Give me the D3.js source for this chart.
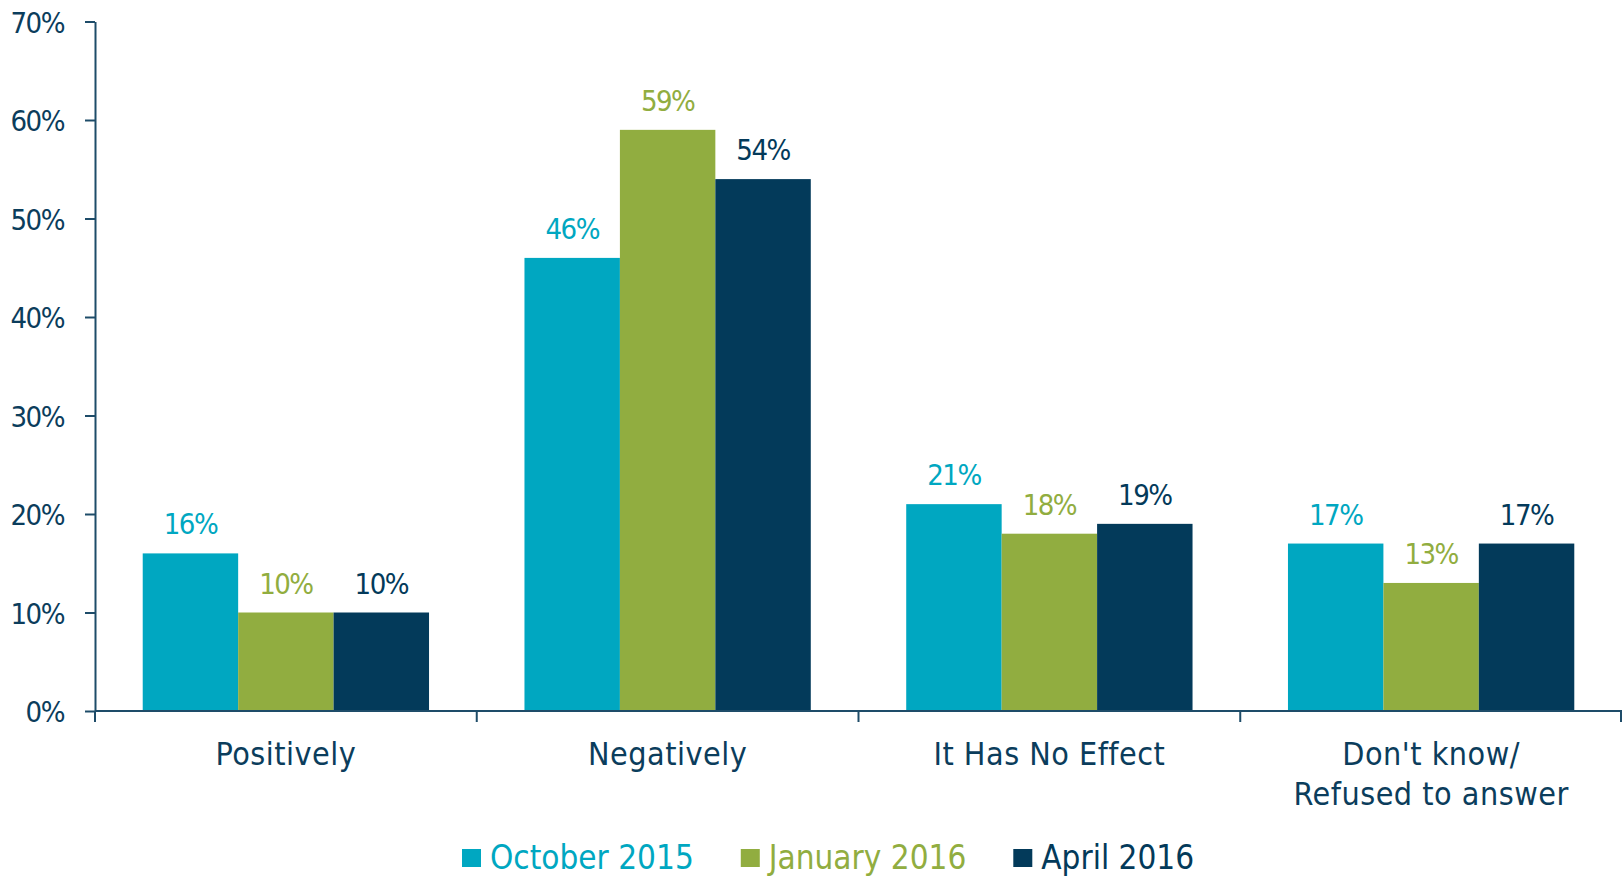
<!DOCTYPE html>
<html>
  <head>
    <meta charset="utf-8">
    <title>D3</title>
    <script src="https://d3js.org/d3.v7.min.js"></script>
    <style>
      body { margin: 0; background: #fff; }
      text { font-family: "DejaVu Sans", sans-serif; font-stretch: condensed; }
    </style>
  </head>
  <body>
    <script type="text/javascript">
      var categories = ['Positively', 'Negatively', 'It Has No Effect', "Don't know/\nRefused to answer"];
      var seriesNames = ['October 2015', 'January 2016', 'April 2016'];
      var october2015 = [16, 46, 21, 17];
      var january2016 = [10, 59, 18, 13];
      var april2016 = [10, 54, 19, 17];
      var yTicks = [0, 10, 20, 30, 40, 50, 60, 70];

      var series = [october2015, january2016, april2016];
      var colors = ['#00A7C1', '#91AD40', '#033A5A'];
      var axisColor = '#1E4C69';
      var textColor = '#0B3D5C';

      var svg = d3.select('body')
                  .append('svg')
                  .attr('width', 1623)
                  .attr('height', 877);

      var x0 = d3.scaleBand()
                 .domain(categories)
                 .range([95, 1622])
                 .padding(0);
      var x1 = d3.scaleBand()
                 .domain(seriesNames)
                 .range([0, x0.bandwidth()])
                 .paddingOuter(0.5);
      var y = d3.scaleLinear()
                .domain([0, 70])
                .range([711, 21.5]);

      // y axis
      var yAxis = d3.axisLeft(y)
                    .tickValues(yTicks)
                    .tickFormat(function (d) { return d + '%'; })
                    .tickSize(10)
                    .tickSizeOuter(0)
                    .tickPadding(21);
      var gy = svg.append('g')
                  .attr('transform', 'translate(95,0)')
                  .call(yAxis);
      gy.selectAll('path, line').attr('stroke', axisColor).attr('stroke-width', 2);
      gy.selectAll('text')
        .attr('fill', textColor)
        .style('font-size', '29px')
        .style('letter-spacing', '-1.5px')
        .attr('dy', '0.37em');

      // bars
      var groups = svg.selectAll('g.cat')
                      .data(categories)
                      .enter()
                        .append('g')
                        .attr('class', 'cat')
                        .attr('transform', function (d) { return 'translate(' + x0(d) + ',0)'; });

      groups.selectAll('rect')
            .data(function (d, i) { return series.map(function (s, j) { return { name: seriesNames[j], value: s[i], k: j }; }); })
            .enter()
              .append('rect')
              .attr('x', function (d) { return x1(d.name); })
              .attr('width', x1.bandwidth())
              .attr('y', function (d) { return y(d.value); })
              .attr('height', function (d) { return y(0) - y(d.value); })
              .attr('fill', function (d) { return colors[d.k]; });

      groups.selectAll('text.val')
            .data(function (d, i) { return series.map(function (s, j) { return { name: seriesNames[j], value: s[i], k: j }; }); })
            .enter()
              .append('text')
              .attr('class', 'val')
              .attr('x', function (d) { return x1(d.name) + x1.bandwidth() / 2; })
              .attr('y', function (d) { return y(d.value) - 19; })
              .attr('text-anchor', 'middle')
              .attr('fill', function (d) { return colors[d.k]; })
              .style('font-size', '29px')
              .style('letter-spacing', '-1.5px')
              .text(function (d) { return d.value + '%'; });

      // x axis line + boundary ticks
      var gx = svg.append('g');
      gx.append('line')
        .attr('x1', x0.range()[0]).attr('x2', x0.range()[1])
        .attr('y1', y(0)).attr('y2', y(0))
        .attr('stroke', axisColor).attr('stroke-width', 2);
      var bounds = categories.map(function (c) { return x0(c); }).concat([x0.range()[1] - 1]);
      gx.selectAll('line.tk')
        .data(bounds)
        .enter()
          .append('line')
          .attr('class', 'tk')
          .attr('x1', function (d) { return d; }).attr('x2', function (d) { return d; })
          .attr('y1', y(0)).attr('y2', y(0) + 11)
          .attr('stroke', axisColor).attr('stroke-width', 2);

      var labels = gx.selectAll('text.cat')
        .data(categories)
        .enter()
          .append('text')
          .attr('class', 'cat')
          .attr('text-anchor', 'middle')
          .attr('fill', textColor)
          .style('font-size', '32px')
          .style('letter-spacing', '0.5px')
          .attr('y', 765);
      labels.selectAll('tspan')
            .data(function (d) { return d.split('\n').map(function (t) { return { t: t, c: d }; }); })
            .enter()
              .append('tspan')
              .attr('x', function (d) { return x0(d.c) + x0.bandwidth() / 2; })
              .attr('dy', function (d, i) { return i ? 40 : 0; })
              .text(function (d) { return d.t; });

      // legend
      var lx = 462;
      seriesNames.forEach(function (name, i) {
        svg.append('rect')
           .attr('x', lx).attr('y', 849)
           .attr('width', 19).attr('height', 18)
           .attr('fill', colors[i]);
        var t = svg.append('text')
                   .attr('x', lx + 28).attr('y', 869)
                   .attr('fill', colors[i])
                   .style('font-size', '33px')
                   .text(name);
        lx = lx + 28 + t.node().getComputedTextLength() + 47;
      });
    </script>
  </body>
</html>
